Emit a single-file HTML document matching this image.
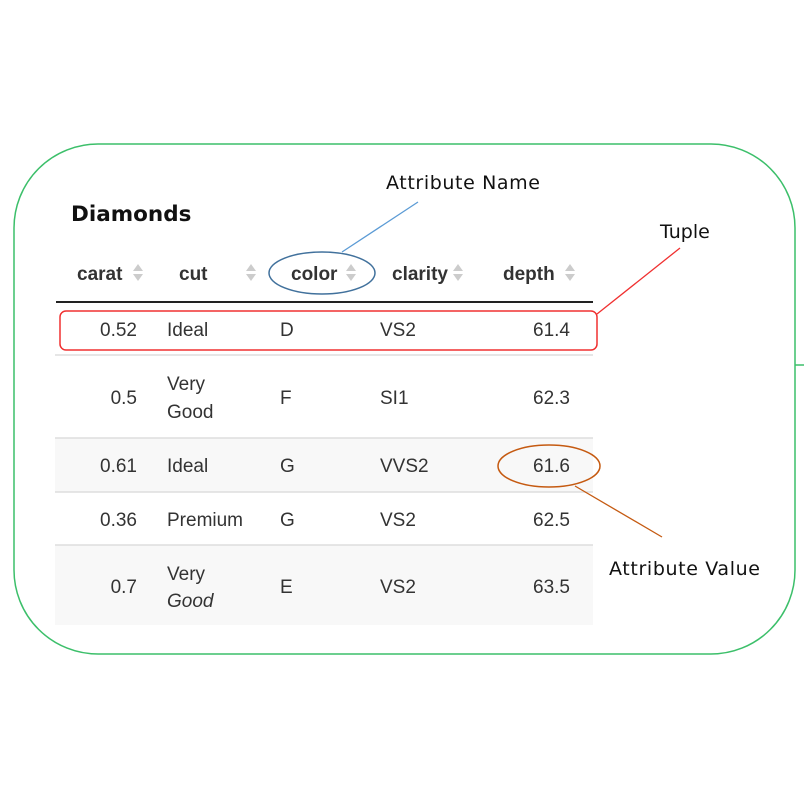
<!DOCTYPE html>
<html><head><meta charset="utf-8"><style>
html,body{margin:0;padding:0;background:#fff;width:804px;height:790px;overflow:hidden}
svg{display:block}
.h{font-family:"Liberation Sans",sans-serif;font-weight:bold;font-size:19px;fill:#333}
.t text{font-family:"Liberation Sans",sans-serif;font-size:19px;fill:#333}
.c{font-family:"DejaVu Sans","Liberation Sans",sans-serif;font-size:19px;fill:#111}
</style></head><body>
<svg width="804" height="790" viewBox="0 0 804 790">
<rect x="14" y="144" width="781" height="510" rx="84" fill="none" stroke="#3cbf6a" stroke-width="1.5"/>
<line x1="795" y1="365" x2="804" y2="365" stroke="#3cbf6a" stroke-width="1.5"/>
<rect x="55" y="438" width="538" height="54" fill="#f8f8f8"/>
<rect x="55" y="545" width="538" height="80" fill="#f8f8f8"/>
<g stroke="#ddd" stroke-width="1.5">
<line x1="55" y1="355" x2="593" y2="355"/><line x1="55" y1="438" x2="593" y2="438"/>
<line x1="55" y1="492" x2="593" y2="492"/><line x1="55" y1="545" x2="593" y2="545"/>
</g>
<line x1="56" y1="302" x2="593" y2="302" stroke="#222" stroke-width="2"/>
<text x="71" y="221" font-family="DejaVu Sans,Liberation Sans,sans-serif" font-weight="bold" font-size="21.5" fill="#111">Diamonds</text>
<text x="386" y="189" class="c" textLength="154">Attribute Name</text>
<text x="660" y="238" class="c">Tuple</text>
<text x="609" y="575" class="c" textLength="151">Attribute Value</text>
<text class="h" x="77" y="280">carat</text><text class="h" x="179" y="280">cut</text>
<text class="h" x="291" y="280">color</text><text class="h" x="392" y="280">clarity</text>
<text class="h" x="503" y="280">depth</text>
<g fill="#ccc">
<path d="M133 271 l5 -7 l5 7z M133 274 l5 7 l5 -7z"/>
<path d="M246 271 l5 -7 l5 7z M246 274 l5 7 l5 -7z"/>
<path d="M346 271 l5 -7 l5 7z M346 274 l5 7 l5 -7z"/>
<path d="M453 271 l5 -7 l5 7z M453 274 l5 7 l5 -7z"/>
<path d="M565 271 l5 -7 l5 7z M565 274 l5 7 l5 -7z"/>
</g>
<g class="t">
<text x="137" y="336" text-anchor="end">0.52</text><text x="167" y="336">Ideal</text><text x="280" y="336">D</text><text x="380" y="336">VS2</text><text x="570" y="336" text-anchor="end">61.4</text>
<text x="137" y="404" text-anchor="end">0.5</text><text x="167" y="390">Very</text><text x="167" y="418">Good</text><text x="280" y="404">F</text><text x="380" y="404">SI1</text><text x="570" y="404" text-anchor="end">62.3</text>
<text x="137" y="472" text-anchor="end">0.61</text><text x="167" y="472">Ideal</text><text x="280" y="472">G</text><text x="380" y="472">VVS2</text><text x="570" y="472" text-anchor="end">61.6</text>
<text x="137" y="526" text-anchor="end">0.36</text><text x="167" y="526">Premium</text><text x="280" y="526">G</text><text x="380" y="526">VS2</text><text x="570" y="526" text-anchor="end">62.5</text>
<text x="137" y="593" text-anchor="end">0.7</text><text x="167" y="580">Very</text><text x="167" y="607" font-style="italic">Good</text><text x="280" y="593">E</text><text x="380" y="593">VS2</text><text x="570" y="593" text-anchor="end">63.5</text>
</g>
<ellipse cx="322" cy="273" rx="53" ry="21" fill="none" stroke="#41719c" stroke-width="1.5"/>
<line x1="418" y1="202" x2="342" y2="252" stroke="#5b9bd5" stroke-width="1.3"/>
<rect x="60" y="311" width="537" height="39" rx="6" fill="none" stroke="#f03030" stroke-width="1.5"/>
<line x1="597" y1="314" x2="680" y2="248" stroke="#f03030" stroke-width="1.3"/>
<ellipse cx="549" cy="466" rx="51" ry="21" fill="none" stroke="#c55a11" stroke-width="1.5"/>
<line x1="575" y1="486" x2="662" y2="537" stroke="#c55a11" stroke-width="1.3"/>
</svg>
</body></html>
